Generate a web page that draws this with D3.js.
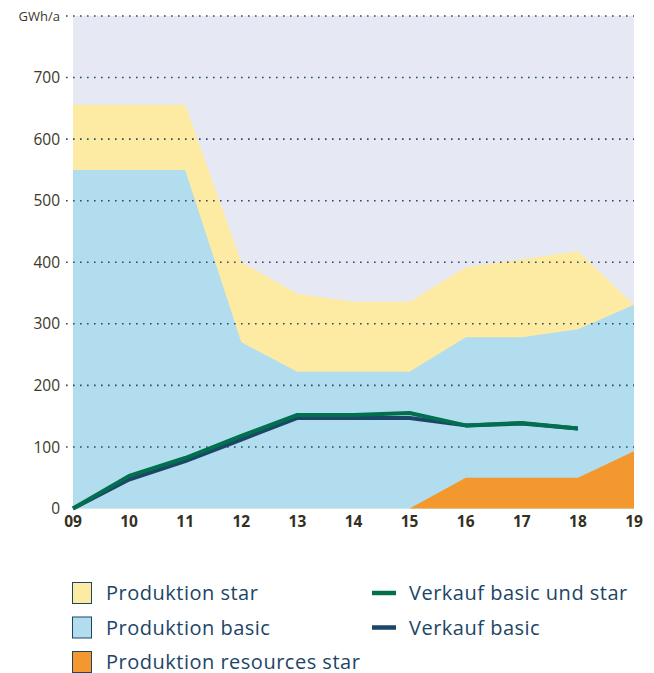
<!DOCTYPE html>
<html><head><meta charset="utf-8">
<script src="https://cdn.jsdelivr.net/npm/d3@7"></script>
<style>body{margin:0;background:#fff;}svg{display:block;}</style>
</head><body>
<svg id="c" width="654" height="673"></svg>
<script>
const years = ["09","10","11","12","13","14","15","16","17","18","19"];
const produktionStar = [656,656,656,400,349,336,336,392,405,418,331];
const produktionBasic = [550,550,550,270,222,222,222,278,278,291,331];
const produktionResourcesStar = [null,null,null,null,null,null,0,50,50,50,93];
const verkaufBasicUndStar = [0,53,82,118,152,152,155,135,139,130];
const verkaufBasic = [0,47,77,112,147,147,147,135,138,130];
const yTicks = [0,100,200,300,400,500,600,700];
const yUnit = "GWh/a";
const legendItems = [
  {label:"Produktion star", type:"box", color:"#feeba3"},
  {label:"Produktion basic", type:"box", color:"#b2ddee"},
  {label:"Produktion resources star", type:"box", color:"#f3982e"},
  {label:"Verkauf basic und star", type:"line", color:"#00704f"},
  {label:"Verkauf basic", type:"line", color:"#1c4566"}
];

const svg = d3.select("#c");
const L = 73, R = 634, T = 16, B = 508.5;
const x = d3.scalePoint().domain(years).range([L, R]);
const y = d3.scaleLinear().domain([0, 800]).range([B, T]);

svg.append("rect").attr("x", L).attr("y", T).attr("width", R - L).attr("height", B - T).attr("fill", "#e6e9f3");

function areaOf(vals){
  const pts = years.map((yr,i)=>({yr, v: vals[i]})).filter(d=>d.v!==null && d.v!==undefined);
  return d3.area().x(d=>x(d.yr)).y0(y(0)).y1(d=>y(d.v))(pts);
}
svg.append("path").attr("d", areaOf(produktionStar)).attr("fill", "#feeba3");
svg.append("path").attr("d", areaOf(produktionBasic)).attr("fill", "#b2ddee");
svg.append("path").attr("d", areaOf(produktionResourcesStar)).attr("fill", "#f3982e");

// gridlines
const grid = yTicks.filter(t=>t>0).concat([800]);
svg.append("g").selectAll("line").data(grid).join("line")
  .attr("x1", 66).attr("x2", 634).attr("y1", d=>y(d)).attr("y2", d=>y(d))
  .attr("stroke", "#2b4a68").attr("stroke-width", 1.6).attr("stroke-dasharray", "1.6,5.4");

// lines
const line = d3.line().x((d,i)=>x(years[i])).y(d=>y(d));
svg.append("path").attr("d", line(verkaufBasic)).attr("fill","none").attr("stroke","#1c4566").attr("stroke-width",4).attr("stroke-linejoin","round");
svg.append("path").attr("d", line(verkaufBasicUndStar)).attr("fill","none").attr("stroke","#00704f").attr("stroke-width",4).attr("stroke-linejoin","round");

// y axis labels
svg.append("g").selectAll("text").data(yTicks).join("text")
  .attr("x", 60).attr("y", d=>y(d)).attr("dy","0.36em").attr("text-anchor","end")
  .attr("font-family","Open Sans, sans-serif").attr("font-size",15.5).attr("fill","#3b3829")
  .text(d=>d);
svg.append("text").attr("x",60).attr("y",y(800)).attr("dy","0.36em").attr("text-anchor","end")
  .attr("font-family","Open Sans, sans-serif").attr("font-size",13).attr("fill","#3b3829").text(yUnit);

// x axis labels
svg.append("g").selectAll("text").data(years).join("text")
  .attr("x", d=>x(d)).attr("y", 527).attr("text-anchor","middle")
  .attr("font-family","Open Sans, sans-serif").attr("font-weight","bold").attr("font-size",15.5).attr("fill","#34301f")
  .text(d=>d);

// legend
const lg = svg.append("g");
legendItems.forEach((it,i)=>{
  const row = it.type==="box" ? i : i-3;
  const cy = 593 + row*34.5;
  if(it.type==="box"){
    lg.append("rect").attr("x",72.5).attr("y",cy-10.5).attr("width",19).attr("height",21)
      .attr("fill",it.color).attr("stroke","#1c4566").attr("stroke-width",1);
    lg.append("text").attr("x",106).attr("y",cy).attr("dy","0.35em")
      .attr("font-family","Open Sans, sans-serif").attr("font-size",20).attr("letter-spacing",0.5).attr("fill","#1c4566").text(it.label);
  } else {
    lg.append("line").attr("x1",372).attr("x2",396).attr("y1",cy).attr("y2",cy)
      .attr("stroke",it.color).attr("stroke-width",4.5);
    lg.append("text").attr("x",409).attr("y",cy).attr("dy","0.35em")
      .attr("font-family","Open Sans, sans-serif").attr("font-size",20).attr("letter-spacing",0.5).attr("fill","#1c4566").text(it.label);
  }
});
</script>
</body></html>
